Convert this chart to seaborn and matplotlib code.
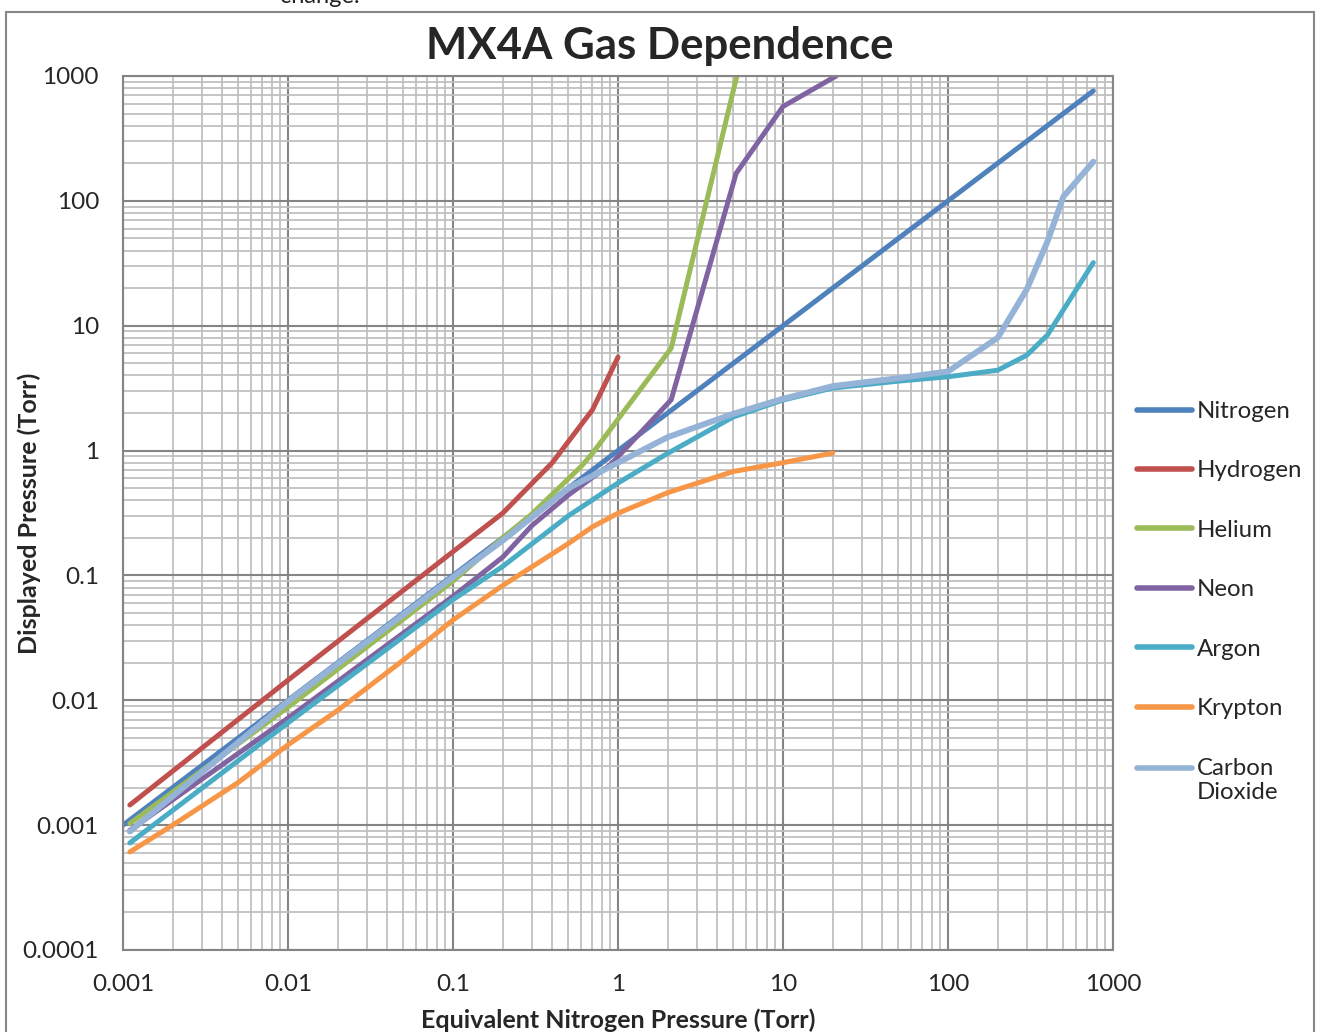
import numpy as np
import pandas as pd
import matplotlib
matplotlib.use("Agg")
import matplotlib.pyplot as plt
import seaborn as sns
from matplotlib.ticker import LogLocator, FuncFormatter, NullFormatter
from matplotlib.patches import Rectangle

# ---------------- data ----------------
gases = ["Nitrogen", "Hydrogen", "Helium", "Neon", "Argon", "Krypton", "Carbon\nDioxide"]

nitrogen_x = [0.001, 0.01, 0.1, 1, 10, 100, 760]
nitrogen_y = [0.001, 0.01, 0.1, 1, 10, 100, 760]

hydrogen_x = [0.0011, 0.01, 0.1, 0.2, 0.4, 0.7, 1.0]
hydrogen_y = [0.00145, 0.0145, 0.155, 0.315, 0.8, 2.12, 5.6]

helium_x = [0.0011, 0.01, 0.1, 0.2, 0.3, 0.6, 0.7, 2.1, 5.25]
helium_y = [0.00103, 0.0088, 0.09, 0.2, 0.31, 0.75, 0.95, 6.6, 1000]

neon_x = [0.0011, 0.01, 0.1, 0.2, 0.3, 0.5, 0.7, 0.9, 2.1, 5.2, 10, 21]
neon_y = [0.00091, 0.0072, 0.068, 0.14, 0.25, 0.44, 0.61, 0.77, 2.55, 166, 570, 1000]

argon_x = [0.0011, 0.01, 0.1, 0.2, 0.5, 1, 2, 5, 10, 20, 50, 100, 200, 300, 400, 760]
argon_y = [0.00072, 0.0066, 0.064, 0.118, 0.3, 0.55, 0.95, 1.86, 2.54, 3.17, 3.6, 3.9, 4.4, 5.8, 8.4, 32]

krypton_x = [0.0011, 0.002, 0.005, 0.01, 0.02, 0.05, 0.1, 0.2, 0.5, 0.7, 1, 2, 5, 10, 20]
krypton_y = [0.00061, 0.001, 0.0022, 0.0044, 0.0083, 0.021, 0.044, 0.083, 0.18, 0.245, 0.315, 0.46, 0.68, 0.8, 0.955]

co2_x = [0.0011, 0.01, 0.1, 0.2, 0.5, 1, 2, 5, 10, 20, 50, 100, 200, 300, 400, 500, 760]
co2_y = [0.00089, 0.0098, 0.097, 0.19, 0.5, 0.8, 1.28, 1.97, 2.6, 3.28, 3.8, 4.3, 8.0, 19.5, 47, 108, 206]

colors = ["#4F81BD", "#C0504D", "#9BBB59", "#8064A2", "#4BACC6", "#F79646", "#95B3D7"]

x_ticks = [0.001, 0.01, 0.1, 1, 10, 100, 1000]
y_ticks = [0.0001, 0.001, 0.01, 0.1, 1, 10, 100, 1000]

title = "MX4A Gas Dependence"
x_label = "Equivalent Nitrogen Pressure (Torr)"
y_label = "Displayed Pressure (Torr)"

# ---------------- build long table ----------------
series_x = [nitrogen_x, hydrogen_x, helium_x, neon_x, argon_x, krypton_x, co2_x]
series_y = [nitrogen_y, hydrogen_y, helium_y, neon_y, argon_y, krypton_y, co2_y]
rows = []
for g, xs, ys in zip(gases, series_x, series_y):
    for i, (xv, yv) in enumerate(zip(xs, ys)):
        rows.append({"gas": g, "x": xv, "y": yv, "order": i})
df = pd.DataFrame(rows)

sns.set_style("white")
plt.rcParams["font.family"] = ["Lato", "DejaVu Sans"]

fig = plt.figure(figsize=(13.21, 10.32), dpi=100)
W, H = 1321, 1032
ax = fig.add_axes([123 / W, 1 - 950 / H, (1113 - 123) / W, (950 - 76) / H])

palette = dict(zip(gases, colors))
sns.lineplot(data=df, x="x", y="y", hue="gas", hue_order=gases, palette=palette,
             sort=False, estimator=None, units="gas", linewidth=3.6, ax=ax,
             legend=True)
for ln, g in zip(ax.get_lines(), gases):
    ln.set_solid_capstyle("round")
    ln.set_solid_joinstyle("round")
    if g.startswith("Carbon"):
        ln.set_linewidth(4.3)

ax.set_xscale("log")
ax.set_yscale("log")
ax.set_xlim(0.001, 1000)
ax.set_ylim(0.0001, 1000)

ax.xaxis.set_minor_locator(LogLocator(base=10, subs=np.arange(2, 10), numticks=100))
ax.yaxis.set_minor_locator(LogLocator(base=10, subs=np.arange(2, 10), numticks=100))
ax.set_xticks(x_ticks)
ax.set_yticks(y_ticks)
fmt = FuncFormatter(lambda v, p: "{:g}".format(v) if v >= 1 else "{:.{n}f}".format(v, n=int(round(-np.log10(v)))))
ax.xaxis.set_major_formatter(fmt)
ax.yaxis.set_major_formatter(fmt)
ax.xaxis.set_minor_formatter(NullFormatter())
ax.yaxis.set_minor_formatter(NullFormatter())

ax.set_axisbelow(True)
ax.grid(which="minor", color="#C0C0C0", linewidth=1.3)
ax.grid(which="major", color="#858585", linewidth=1.5)
ax.tick_params(which="both", length=0)
ax.tick_params(axis="x", labelsize=17.5, pad=17.5)
ax.tick_params(axis="y", labelsize=17.5, pad=17.3)
for s in ax.spines.values():
    s.set_color("#858585")
    s.set_linewidth(1.5)

ax.set_xlabel(x_label, fontsize=18, fontweight="bold")
ax.set_ylabel(y_label, fontsize=18, fontweight="bold")
ax.xaxis.set_label_coords(618 / W, 1 - 1020 / H, transform=fig.transFigure)
ax.yaxis.set_label_coords(29 / W, 1 - 513 / H, transform=fig.transFigure)
ax.xaxis.label.set_va("center")
ax.yaxis.label.set_va("center")

fig.text(660 / W, 1 - 46 / H, title, ha="center", va="center", fontsize=31.5, fontweight="bold")

leg = ax.legend(loc="upper left", bbox_to_anchor=(1137 / W, 1 - 401 / H),
                bbox_transform=fig.transFigure, frameon=False, fontsize=17.3,
                handlelength=2.3, handletextpad=0.18, labelspacing=1.6,
                borderpad=0, borderaxespad=0)
leg_lines = leg.get_lines()
for h in leg_lines:
    h.set_linewidth(4)
    h.set_solid_capstyle("round")
# align the wrapped "Carbon Dioxide" entry's line with its first text line
co2_handle = leg_lines[-1]
co2_handle.set_ydata(np.asarray(co2_handle.get_ydata(), dtype=float) + 8.8)

# chart frame and cut-off text above
fig.patches.append(Rectangle((6 / W, -0.05), (1314 - 6) / W, (1 - 12 / H) + 0.05,
                             transform=fig.transFigure, fill=False,
                             edgecolor="#868686", linewidth=1.5))
fig.text(320 / W, 1 - 3 / H, "change.", ha="center", va="baseline", fontsize=17, color="#222222")

fig.savefig("out.png", dpi=100)
